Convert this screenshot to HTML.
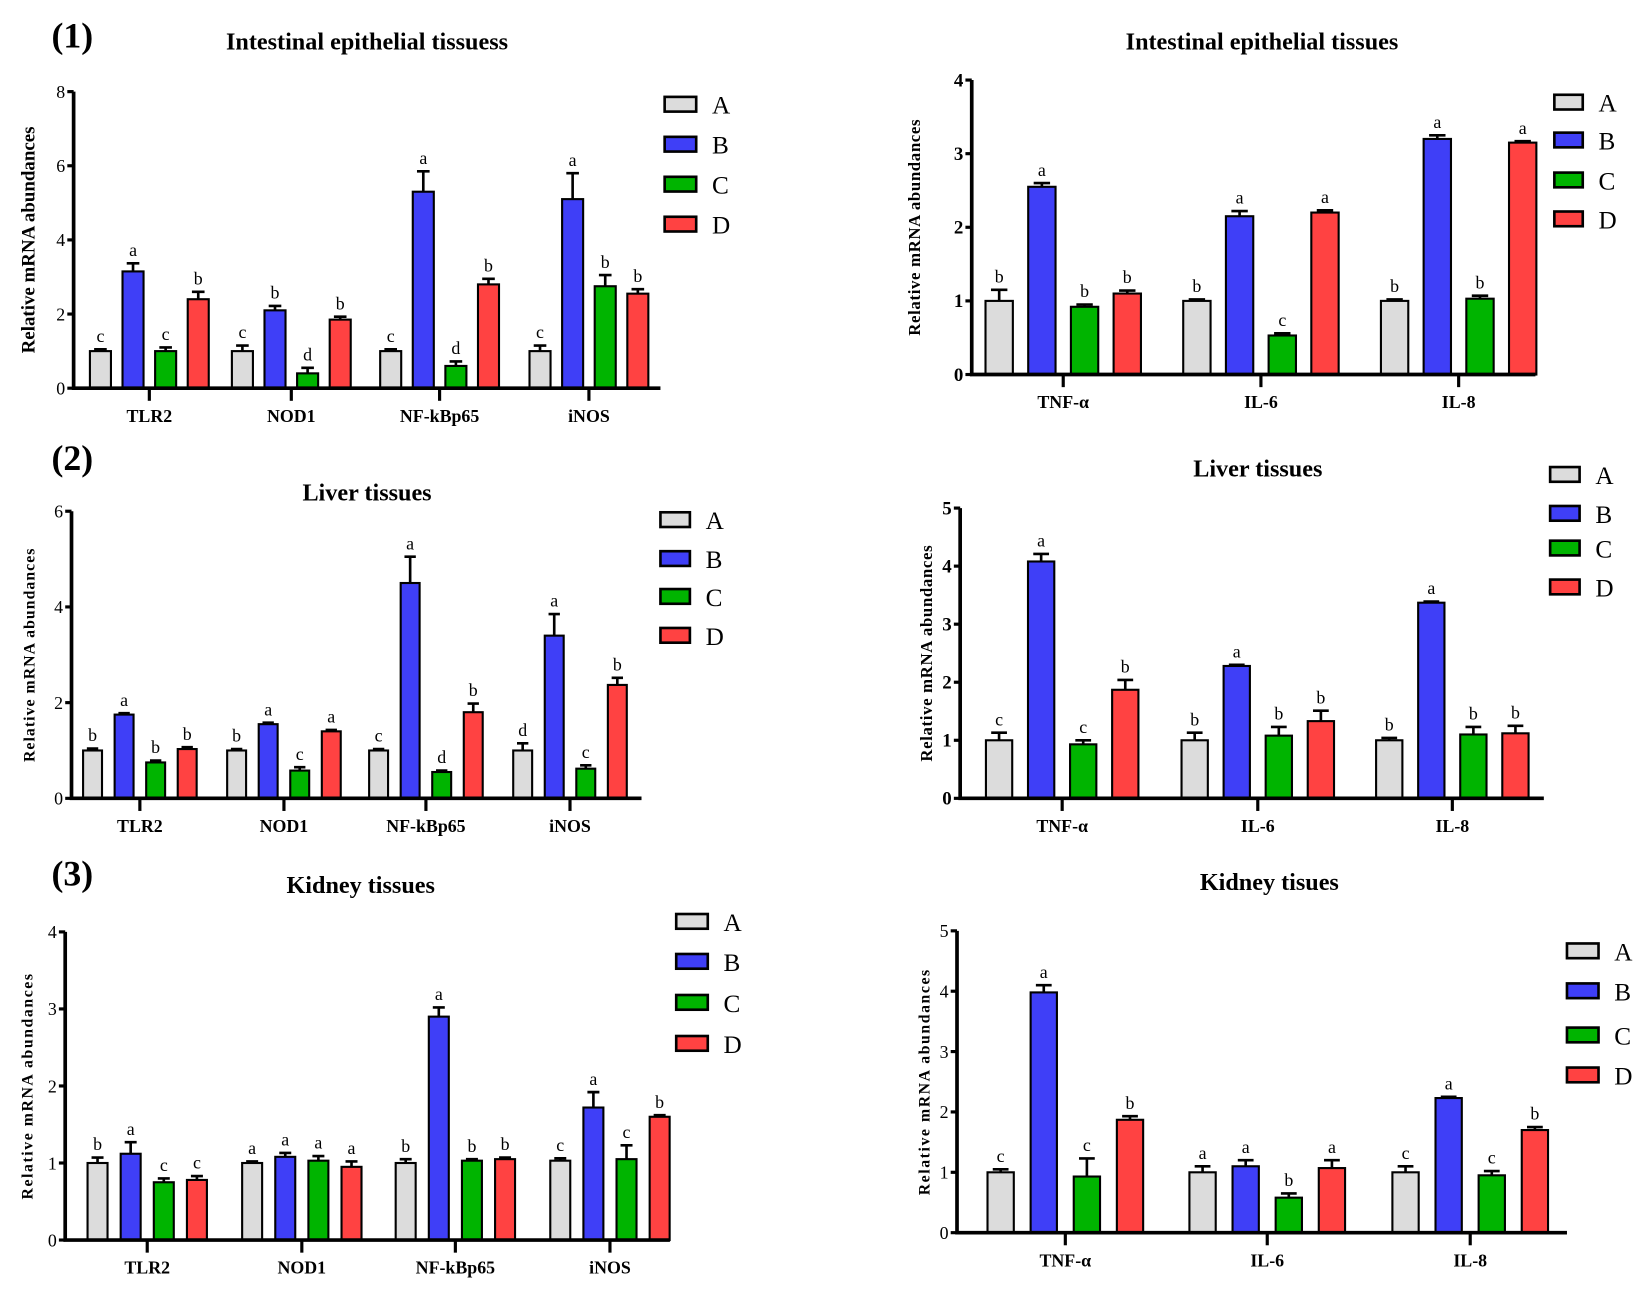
<!DOCTYPE html>
<html><head><meta charset="utf-8"><style>
html,body{margin:0;padding:0;background:#fff;}
svg{display:block;}
text{font-family:"Liberation Serif",serif;}
</style></head><body>
<svg id="fig" width="1649" height="1298" viewBox="0 0 1568 1234" xmlns="http://www.w3.org/2000/svg">
<text x="49" y="45" font-size="34" font-weight="bold">(1)</text>
<text x="49" y="447" font-size="34" font-weight="bold">(2)</text>
<text x="49" y="842" font-size="34" font-weight="bold">(3)</text>
</svg>
<script>
// ---- data ----
const groups = ["A","B","C","D"];
const catsGenes = ["TLR2","NOD1","NF-kBp65","iNOS"];
const catsCyto = ["TNF-α","IL-6","IL-8"];

const c1Vals = [[1,3.15,1,2.4],[1,2.1,0.4,1.85],[1,5.3,0.6,2.8],[1,5.1,2.75,2.55]];
const c1Errs = [[0.05,0.22,0.1,0.2],[0.15,0.12,0.15,0.08],[0.05,0.55,0.12,0.15],[0.15,0.7,0.3,0.12]];
const c1Sig = [["c","a","c","b"],["c","b","d","b"],["c","a","d","b"],["c","a","b","b"]];

const c2Vals = [[1,2.55,0.92,1.1],[1,2.15,0.53,2.2],[1,3.2,1.03,3.15]];
const c2Errs = [[0.15,0.05,0.03,0.04],[0.02,0.07,0.03,0.03],[0.02,0.05,0.04,0.02]];
const c2Sig = [["b","a","b","b"],["b","a","c","a"],["b","a","b","a"]];

const c3Vals = [[1,1.75,0.75,1.03],[1,1.55,0.58,1.4],[1,4.5,0.55,1.8],[1,3.4,0.62,2.37]];
const c3Errs = [[0.04,0.03,0.04,0.04],[0.03,0.03,0.07,0.03],[0.03,0.55,0.03,0.18],[0.15,0.45,0.07,0.15]];
const c3Sig = [["b","a","b","b"],["b","a","c","a"],["c","a","d","b"],["d","a","c","b"]];

const c4Vals = [[1,4.08,0.93,1.87],[1,2.28,1.08,1.33],[1,3.37,1.1,1.12]];
const c4Errs = [[0.13,0.13,0.07,0.17],[0.13,0.02,0.15,0.18],[0.04,0.02,0.13,0.13]];
const c4Sig = [["c","a","c","b"],["b","a","b","b"],["b","a","b","b"]];

const c5Vals = [[1,1.12,0.75,0.78],[1,1.08,1.03,0.95],[1,2.9,1.03,1.05],[1.03,1.72,1.05,1.6]];
const c5Errs = [[0.07,0.15,0.05,0.05],[0.02,0.05,0.06,0.07],[0.05,0.12,0.02,0.02],[0.03,0.2,0.18,0.02]];
const c5Sig = [["b","a","c","c"],["a","a","a","a"],["b","a","b","b"],["c","a","c","b"]];

const c6Vals = [[1,3.98,0.93,1.87],[1,1.1,0.58,1.07],[1,2.23,0.95,1.7]];
const c6Errs = [[0.05,0.12,0.3,0.06],[0.1,0.1,0.07,0.13],[0.1,0.02,0.07,0.05]];
const c6Sig = [["c","a","c","b"],["a","a","b","a"],["c","a","c","b"]];

const yTicks4 = [0,1,2,3,4];
const yTicks5 = [0,1,2,3,4,5];
const yTicks6 = [0,2,4,6];
const yTicks8 = [0,2,4,6,8];

const colors = ["#dcdcdc","#3f3ff7","#00b400","#ff4242"];
const NS = "http://www.w3.org/2000/svg";
const svg = document.getElementById("fig");

function mk(tag, attrs, parent, txt){
  const e = document.createElementNS(NS, tag);
  for (const k in attrs) e.setAttribute(k, attrs[k]);
  if (txt !== undefined) e.textContent = txt;
  (parent||svg).appendChild(e);
  return e;
}

function chart(id, L){
  const g = mk("g", {});
  
  
  const ymax = L.ticks[L.ticks.length-1];
  const y = v => L.y0 - (v/ymax)*(L.y0-L.yTop);
  const nc = L.cats.length;
  const t = mk("text", {x:L.titleX, y:L.titleY, "font-size":23, "font-weight":"bold", "text-anchor":"middle"}, g, L.title);
  
  
  const yl = mk("text", {transform:`translate(${L.ylx},${(L.y0+L.yTop)/2}) rotate(-90)`, "font-size":L.ylSize, "font-weight":"bold", "text-anchor":"middle", "font-family":L.ylFont, "letter-spacing":L.ylSpacing||0}, g, "Relative mRNA abundances");
  
  
  for (let c=0;c<nc;c++){
    const cx = L.catX[c];
    for (let s=0;s<4;s++){
      const bx = cx + (s-1.5)*L.sp;
      const v = L.vals[c][s], e = L.errs[c][s];
      const top = y(v);
      const r = mk("rect", {x:bx-L.bw/2, y:top, width:L.bw, height:L.y0-top, fill:colors[s], stroke:"#000", "stroke-width":2}, g);
      
      
      const et = y(v+e);
      const el = mk("path", {d:`M${bx} ${top}V${et}M${bx-L.bw*0.3} ${et}H${bx+L.bw*0.3}`, stroke:"#000", "stroke-width":2.5, fill:"none"}, g);
      
      
      const lt = mk("text", {x:bx, y:et-7, "font-size":17, "text-anchor":"middle"}, g, L.sig[c][s]);
      
      
    }
    const tk = mk("line", {x1:cx, x2:cx, y1:L.y0, y2:L.y0+12, stroke:"#000", "stroke-width":3}, g);
    
    
    const cl = mk("text", {x:cx, y:L.y0+32, "font-size":17, "font-weight":"bold", "text-anchor":"middle"}, g, L.cats[c]);
    
    
  }
  const ax = mk("path", {d:`M${L.x0} ${L.yTop}V${L.y0}H${L.xEnd}`, stroke:"#000", "stroke-width":3.5, fill:"none"}, g);
  
  
  L.ticks.forEach(tv=>{
    const ty = y(tv);
    const tl = mk("line", {x1:L.x0-6, x2:L.x0, y1:ty, y2:ty, stroke:"#000", "stroke-width":3}, g);
    
    
    const tx = mk("text", {x:L.x0-8, y:ty+6, "font-size":L.tickSize||17, "font-weight":L.tickBold?"bold":"normal", "text-anchor":"end"}, g, String(tv));
    
    
  });
  for (let s=0;s<4;s++){
    const ly = L.legY[s];
    const sw = mk("rect", {x:L.legX, y:ly-7, width:L.legW, height:14, fill:colors[s], stroke:"#000", "stroke-width":2.5}, g);
    
    
    const lx = mk("text", {x:L.legX+L.legW+15, y:ly+9, "font-size":24}, g, groups[s]);
    
    
  }
}

chart("intestinal-genes-chart", {title:"Intestinal epithelial tissuess", titleX:349, titleY:47, x0:70, xEnd:628, yTop:87, y0:369, ticks:yTicks8,
  cats:catsGenes, catX:[142,277,418,560], sp:31, bw:20, vals:c1Vals, errs:c1Errs, sig:c1Sig,
  ylx:33, ylSize:18, ylFont:'"Liberation Sans",sans-serif', legX:632, legW:30, legY:[99,137,175,213]});
chart("intestinal-cytokines-chart", {title:"Intestinal epithelial tissues", titleX:1200, titleY:47, x0:924, xEnd:1460, yTop:76, y0:356, ticks:yTicks4,
  cats:catsCyto, catX:[1011,1199,1387], sp:40.6, bw:26, vals:c2Vals, errs:c2Errs, sig:c2Sig, tickSize:18, tickBold:true,
  ylx:875, ylSize:16, ylFont:'"Liberation Serif",serif', ylSpacing:0.6, legX:1478, legW:27, legY:[97,133,171,208]});
chart("liver-genes-chart", {title:"Liver tissues", titleX:349, titleY:476, x0:68, xEnd:610, yTop:486, y0:759, ticks:yTicks6,
  cats:catsGenes, catX:[133,270,405,542], sp:30, bw:18, vals:c3Vals, errs:c3Errs, sig:c3Sig,
  ylx:33, ylSize:15, ylFont:'"Liberation Serif",serif', ylSpacing:1, legX:628, legW:28, legY:[494,531,567,604]});
chart("liver-cytokines-chart", {title:"Liver tissues", titleX:1196, titleY:453, x0:913, xEnd:1468, yTop:483, y0:759, ticks:yTicks5,
  cats:catsCyto, catX:[1010,1196,1381], sp:40, bw:25, vals:c4Vals, errs:c4Errs, sig:c4Sig, tickSize:18, tickBold:true,
  ylx:886, ylSize:16, ylFont:'"Liberation Serif",serif', ylSpacing:0.6, legX:1474, legW:28, legY:[451,488,521,558]});
chart("kidney-genes-chart", {title:"Kidney tissues", titleX:343, titleY:849, x0:62, xEnd:637, yTop:886, y0:1179, ticks:yTicks4,
  cats:catsGenes, catX:[140,287,433,580], sp:31.5, bw:19, vals:c5Vals, errs:c5Errs, sig:c5Sig,
  ylx:31, ylSize:15, ylFont:'"Liberation Serif",serif', ylSpacing:1.5, legX:643, legW:30, legY:[876,914,953,992]});
chart("kidney-cytokines-chart", {title:"Kidney tisues", titleX:1207, titleY:846, x0:910, xEnd:1490, yTop:885, y0:1172, ticks:yTicks5,
  cats:catsCyto, catX:[1013,1205,1398], sp:41, bw:25, vals:c6Vals, errs:c6Errs, sig:c6Sig,
  ylx:884, ylSize:15, ylFont:'"Liberation Serif",serif', ylSpacing:1.5, legX:1490, legW:30, legY:[904,942,984,1022]});
</script>
</body></html>
